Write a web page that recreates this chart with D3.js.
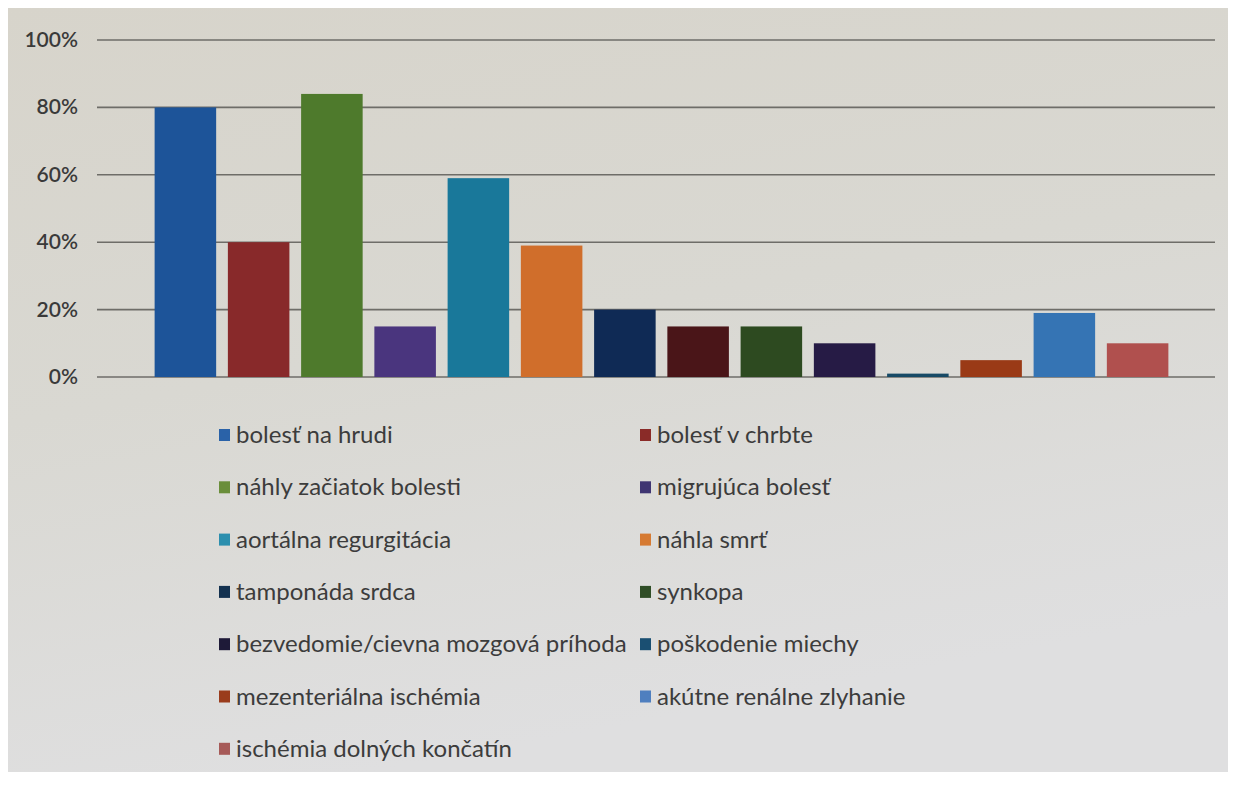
<!DOCTYPE html>
<html><head><meta charset="utf-8">
<script src="https://cdn.jsdelivr.net/npm/d3@7"></script>
<style>body{margin:0;background:#fff}svg{display:block}</style>
</head><body>
<svg id="c" width="1237" height="788"></svg>
<script>
const legendLabels = ["bolesť na hrudi","bolesť v chrbte","náhly začiatok bolesti","migrujúca bolesť","aortálna regurgitácia","náhla smrť","tamponáda srdca","synkopa","bezvedomie/cievna mozgová príhoda","poškodenie miechy","mezenteriálna ischémia","akútne renálne zlyhanie","ischémia dolných končatín"];
// bar values (14 bars in picture)
const barKeys = ["b1","b2","b3","b4","b5","b6","b7","b8","b9","b10","b11","b12","b13","b14"];
const values = [0.80,0.40,0.84,0.15,0.59,0.39,0.20,0.15,0.15,0.10,0.01,0.05,0.19,0.10];
const barColors = ["#1d5499","#88292a","#4e7a2c","#4a357e","#19789a","#d06e2b","#0f2a55","#4a1518","#2d4a20","#261b45","#174a66","#9a3a16","#3574b4","#b0504e"];
const legendColors = ["#2a62a8","#8a2b28","#6a8e3a","#3f3572","#2c8fae","#d67a32","#13314f","#2f4d26","#1e1a38","#1a4f72","#9a3c1c","#4f7fbf","#a65a58"];
const yTicks = [0,0.2,0.4,0.6,0.8,1.0];
const yTickLabels = ["0%","20%","40%","60%","80%","100%"];

const svg = d3.select("#c");
const defs = svg.append("defs");
const grad = defs.append("linearGradient").attr("id","bg").attr("x1",0).attr("y1",0).attr("x2",0.3).attr("y2",1);
grad.append("stop").attr("offset",0).attr("stop-color","#d7d4cb");
grad.append("stop").attr("offset",0.5).attr("stop-color","#d9d8d2");
grad.append("stop").attr("offset",1).attr("stop-color","#dfdfe0");
svg.append("rect").attr("x",8).attr("y",8).attr("width",1220).attr("height",764).attr("fill","url(#bg)");

const x = d3.scaleBand().domain(barKeys).range([118,1205]).paddingInner(0.16).paddingOuter(0.5);
const y = d3.scaleLinear().domain([0,1]).range([377,40]);

const font = "Lato, 'Open Sans', sans-serif";

svg.append("g").selectAll("line").data(yTicks).join("line")
  .attr("x1",97).attr("x2",1215)
  .attr("y1",d=>y(d)).attr("y2",d=>y(d))
  .attr("stroke","#6e6d68").attr("stroke-width",1.6);

svg.append("g").selectAll("text").data(yTicks).join("text")
  .attr("x",78).attr("y",d=>y(d)+7)
  .attr("text-anchor","end").attr("font-family",font).attr("font-size",21).attr("font-weight",600)
  .attr("fill","#3a3a3a").text((d,i)=>yTickLabels[i]);

svg.append("g").selectAll("rect").data(values).join("rect")
  .attr("x",(d,i)=>x(barKeys[i])).attr("width",x.bandwidth())
  .attr("y",d=>y(d)).attr("height",d=>y(0)-y(d))
  .attr("fill",(d,i)=>barColors[i]);

const lg = svg.append("g");
const rowH = 52.3, y0 = 435;
legendLabels.forEach((t,i)=>{
  const col = i%2, row = Math.floor(i/2);
  const gx = col===0 ? 219 : 640;
  const gy = y0 + row*rowH;
  lg.append("rect").attr("x",gx).attr("y",gy-6).attr("width",11).attr("height",12).attr("fill",legendColors[i]);
  lg.append("text").attr("x",gx+17).attr("y",gy+8).attr("font-family",font).attr("font-size",24)
    .attr("fill","#3c3c3c").text(t);
});
</script>
</body></html>
